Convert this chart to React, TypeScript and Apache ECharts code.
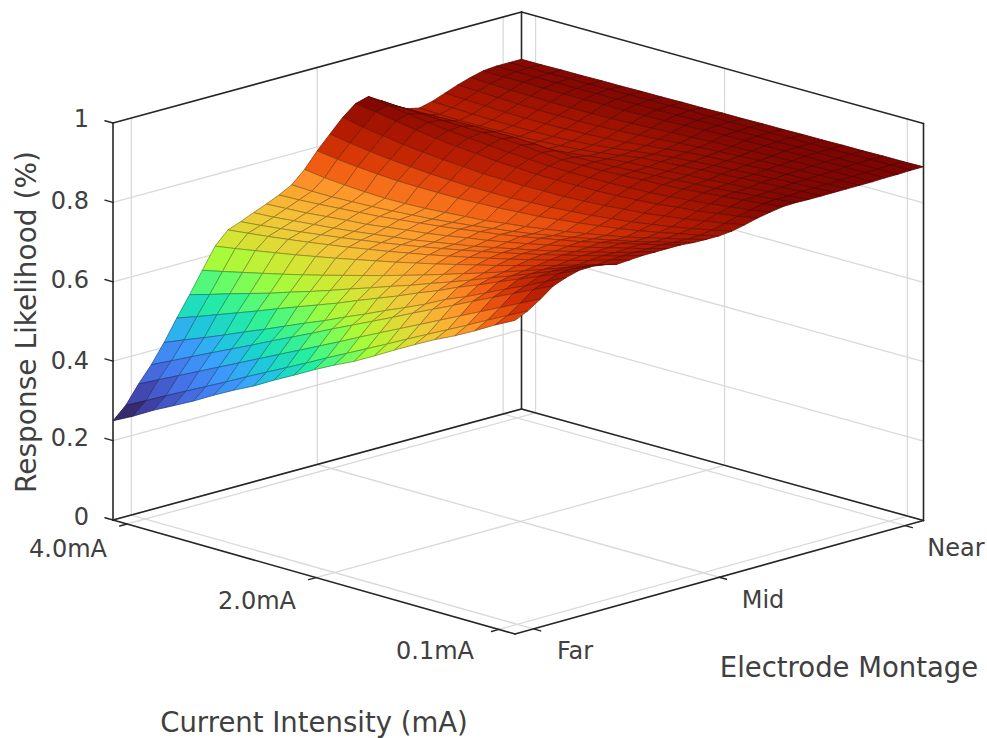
import React, { useEffect, useRef } from "react";
import * as echarts from "echarts";

// Response likelihood; each row is one montage position (Far -> Near),
// each column one current step (4.0mA -> 0.1mA).
const responseRows: number[][] = [
  [.250,.276,.305,.331,.357,.386,.413,.438,.467,.494,.522,.548,.572,.600,.629,.657,.684,.708,.735,.764,.790],
  [.280,.306,.333,.359,.385,.411,.438,.464,.490,.516,.543,.569,.595,.621,.648,.674,.700,.726,.753,.779,.805],
  [.325,.350,.375,.400,.425,.450,.475,.500,.525,.550,.575,.601,.626,.651,.676,.701,.726,.751,.776,.801,.826],
  [.365,.389,.414,.438,.462,.486,.511,.535,.559,.584,.608,.632,.656,.681,.705,.729,.754,.778,.802,.826,.850],
  [.412,.433,.453,.474,.496,.517,.539,.561,.582,.605,.627,.650,.672,.695,.721,.742,.766,.790,.813,.838,.862],
  [.465,.483,.502,.521,.540,.560,.579,.598,.617,.638,.658,.678,.700,.720,.743,.763,.785,.806,.827,.849,.871],
  [.515,.530,.546,.561,.576,.593,.609,.626,.644,.661,.679,.696,.715,.733,.752,.772,.791,.811,.831,.851,.872],
  [.568,.579,.591,.603,.615,.628,.641,.655,.669,.683,.698,.713,.729,.745,.761,.778,.795,.813,.831,.849,.868],
  [.620,.628,.637,.646,.655,.665,.675,.686,.697,.708,.720,.732,.745,.758,.771,.785,.799,.814,.829,.844,.860],
  [.652,.658,.664,.671,.678,.686,.694,.703,.712,.722,.732,.743,.754,.766,.778,.791,.804,.818,.832,.847,.862],
  [.664,.669,.675,.681,.688,.695,.703,.711,.720,.729,.739,.749,.760,.771,.783,.795,.808,.821,.835,.849,.864],
  [.678,.681,.686,.691,.696,.702,.709,.716,.723,.732,.741,.750,.761,.772,.783,.795,.808,.821,.834,.849,.864],
  [.691,.694,.697,.702,.707,.711,.718,.725,.731,.739,.748,.756,.766,.776,.787,.798,.810,.823,.836,.849,.864],
  [.705,.707,.710,.714,.718,.722,.728,.734,.740,.747,.755,.762,.771,.781,.791,.801,.813,.825,.837,.850,.864],
  [.722,.720,.720,.722,.724,.727,.731,.735,.741,.747,.754,.761,.769,.779,.789,.799,.810,.821,.834,.847,.861],
  [.752,.745,.741,.738,.736,.737,.739,.743,.747,.751,.758,.764,.772,.780,.789,.799,.809,.821,.834,.846,.860],
  [.790,.783,.778,.774,.771,.770,.770,.770,.772,.774,.778,.781,.787,.793,.800,.807,.816,.826,.837,.847,.860],
  [.824,.815,.808,.802,.798,.794,.792,.790,.790,.790,.793,.795,.799,.803,.809,.815,.823,.831,.841,.851,.863],
  [.857,.846,.839,.831,.826,.821,.818,.814,.813,.812,.813,.813,.816,.819,.824,.828,.835,.842,.851,.859,.870],
  [.883,.876,.867,.859,.852,.846,.842,.837,.835,.832,.832,.832,.833,.835,.838,.842,.848,.853,.861,.868,.878],
  [.892,.884,.876,.869,.863,.858,.854,.850,.847,.844,.843,.843,.844,.846,.848,.852,.857,.862,.869,.875,.884],
  [.873,.870,.868,.866,.865,.863,.862,.860,.855,.851,.851,.852,.854,.857,.859,.862,.867,.872,.877,.882,.889],
  [.852,.853,.854,.855,.856,.856,.856,.854,.851,.849,.851,.853,.856,.859,.862,.866,.869,.874,.879,.884,.890],
  [.835,.832,.830,.829,.829,.829,.830,.833,.837,.843,.850,.855,.858,.861,.865,.868,.872,.876,.880,.884,.889],
  [.828,.826,.825,.825,.826,.827,.829,.832,.836,.842,.850,.858,.862,.866,.870,.873,.877,.880,.883,.886,.889],
  [.836,.834,.832,.831,.831,.831,.832,.835,.839,.845,.852,.858,.864,.868,.872,.875,.878,.881,.884,.886,.889],
  [.848,.846,.844,.842,.841,.841,.842,.844,.847,.851,.857,.862,.868,.872,.875,.878,.881,.883,.885,.887,.889],
  [.860,.858,.856,.854,.853,.853,.853,.855,.857,.860,.864,.868,.872,.875,.878,.881,.883,.885,.886,.888,.889],
  [.870,.868,.866,.865,.864,.864,.864,.865,.867,.869,.872,.874,.877,.879,.881,.883,.885,.886,.887,.888,.889],
  [.878,.877,.877,.876,.876,.876,.877,.877,.878,.879,.881,.883,.884,.885,.886,.887,.888,.888,.889,.889,.890],
  [.881,.881,.881,.881,.881,.882,.882,.883,.883,.884,.885,.886,.886,.887,.887,.888,.888,.888,.889,.889,.890],
  [.881,.882,.882,.883,.883,.884,.884,.885,.885,.886,.886,.886,.887,.887,.888,.888,.889,.889,.890,.890,.891],
  [.881,.881,.882,.882,.883,.883,.884,.884,.885,.885,.886,.886,.887,.887,.888,.888,.889,.889,.890,.890,.891],
];

const zTicks = [0, 0.2, 0.4, 0.6, 0.8, 1];
const currentTickLabels = ["4.0mA", "2.0mA", "0.1mA"];
const currentTickAt = [0.035, 0.505, 0.96];
const montageTickLabels = ["Far", "Mid", "Near"];
const montageTickAt = [0.045, 0.5, 0.955];
const turbo = ["#30123b", "#4145ab", "#4675ed", "#39a2fc", "#1bcfd4", "#24eca6", "#61fc6c", "#a4fc3b", "#d1e834", "#f3c63a", "#fe9b2d", "#f36315", "#d93806", "#b11901", "#7a0402"];
// Colour curve: normalised height -> position in the palette.
const curveIn = [0, 0.29, 0.43, 0.6, 0.75, 0.88, 0.95, 1];
const curveOut = [0, 0.22, 0.37, 0.57, 0.72, 0.9, 0.95, 1];

const WIDTH = 987;
const HEIGHT = 738;
const ORIGIN = [113, 520];
const S_VEC = [402, 114];
const T_VEC = [408.5, -111];
const Z_SCALE = 397;
const BOX = "#262626";
const GRID = "#d9d9d9";
const TEXT = "#404040";
const FONT = "'DejaVu Sans'";

const project = (s: number, t: number, z: number): [number, number] => [
  ORIGIN[0] + s * S_VEC[0] + t * T_VEC[0],
  ORIGIN[1] + s * S_VEC[1] + t * T_VEC[1] - 2.5 * s * t - z * Z_SCALE,
];

const rgb = (h: string) => [1, 3, 5].map((k) => parseInt(h.slice(k, k + 2), 16));
const warp = (u: number) => {
  for (let k = 0; k < curveIn.length - 1; k++) {
    if (u <= curveIn[k + 1]) {
      return curveOut[k] + ((curveOut[k + 1] - curveOut[k]) * (u - curveIn[k])) / (curveIn[k + 1] - curveIn[k]);
    }
  }
  return curveOut[curveOut.length - 1];
};
const turboAt = (u: number, dim = 1) => {
  const p = warp(Math.max(0, Math.min(1, u))) * (turbo.length - 1);
  const k = Math.min(turbo.length - 2, Math.floor(p));
  const a = rgb(turbo[k]);
  const b = rgb(turbo[k + 1]);
  const c = a.map((v, n) => Math.round((v + (b[n] - v) * (p - k)) * dim));
  return `rgb(${c[0]},${c[1]},${c[2]})`;
};

const allZ = responseRows.flat();
const Z_MIN = Math.min(...allZ);
const Z_MAX = Math.max(...allZ);
const rows = responseRows.length;
const cols = responseRows[0].length;

// Painter's order: back corner first, front corner last.
const cells: number[][] = [];
for (let i = rows - 2; i >= 0; i--) for (let j = 0; j < cols - 1; j++) cells.push([i, j]);

type Seg = { a: [number, number, number]; b: [number, number, number]; color: string; width: number };
const segments: Seg[] = [];
const seg = (a: [number, number, number], b: [number, number, number], color: string, width: number) =>
  segments.push({ a, b, color, width });

zTicks.forEach((z) => {
  if (z === 1) return;
  seg([0, 0, z], [0, 1, z], GRID, 1.3);
  seg([0, 1, z], [1, 1, z], GRID, 1.3);
});
montageTickAt.forEach((t) => {
  seg([0, t, 0], [0, t, 1], GRID, 1.3);
  seg([0, t, 0], [1, t, 0], GRID, 1.3);
});
currentTickAt.forEach((s) => {
  seg([s, 1, 0], [s, 1, 1], GRID, 1.3);
  seg([s, 0, 0], [s, 1, 0], GRID, 1.3);
});
// Box outline
seg([0, 0, 0], [1, 0, 0], BOX, 1.6);
seg([1, 0, 0], [1, 1, 0], BOX, 1.6);
seg([0, 0, 0], [0, 1, 0], BOX, 1.6);
seg([0, 1, 0], [1, 1, 0], BOX, 1.6);
seg([0, 0, 0], [0, 0, 1], BOX, 1.6);
seg([0, 1, 0], [0, 1, 1], BOX, 1.6);
seg([1, 1, 0], [1, 1, 1], BOX, 1.6);
seg([0, 0, 1], [0, 1, 1], BOX, 1.6);
seg([0, 1, 1], [1, 1, 1], BOX, 1.6);
// Ticks
zTicks.forEach((z) => seg([0, 0, z], [-0.02, 0, z], BOX, 1.4));
currentTickAt.forEach((s) => seg([s, 0, 0], [s, -0.018, 0], BOX, 1.4));
montageTickAt.forEach((t) => seg([1, t, 0], [1.018, t, 0], BOX, 1.4));

const zLabelY = [517, 438, 361, 280, 201, 119];
const currentLabelPos = [[68, 549], [257, 601], [435, 651]];
const montageLabelPos = [[575, 651], [763, 600], [956, 548]];

const text = (t: string, x: number, y: number, size: number, align = "center", rotation = 0) => ({
  type: "text",
  x,
  y,
  rotation,
  silent: true,
  style: { text: t, fontFamily: FONT, fontSize: size, fill: TEXT, align, verticalAlign: "middle" },
});

export default function App() {
  const ref = useRef<HTMLDivElement>(null);
  useEffect(() => {
    document.body.style.margin = "0";
    const chart = echarts.init(ref.current!, undefined, { renderer: "svg" });
    chart.setOption({
      animation: false,
      backgroundColor: "#ffffff",
      grid: { left: 0, right: 0, top: 0, bottom: 0 },
      xAxis: { type: "value", min: 0, max: WIDTH, show: false },
      yAxis: { type: "value", min: 0, max: HEIGHT, inverse: true, show: false },
      tooltip: { show: false },
      series: [
        {
          type: "custom",
          silent: true,
          clip: false,
          data: segments.map((_, k) => [k]),
          renderItem: (_: any, api: any) => {
            const g = segments[api.value(0)];
            const p = api.coord(project(...g.a));
            const q = api.coord(project(...g.b));
            return {
              type: "line",
              shape: { x1: p[0], y1: p[1], x2: q[0], y2: q[1] },
              style: { stroke: g.color, lineWidth: g.width, lineCap: "round" },
            };
          },
        },
        {
          type: "custom",
          silent: true,
          clip: false,
          data: cells,
          renderItem: (_: any, api: any) => {
            const i = api.value(0);
            const j = api.value(1);
            const corners = [[i, j], [i + 1, j], [i + 1, j + 1], [i, j + 1]];
            const pts = corners.map(([a, b]) =>
              api.coord(project(b / (cols - 1), a / (rows - 1), responseRows[a][b]))
            );
            const mean = corners.reduce((m, [a, b]) => m + responseRows[a][b], 0) / 4;
            const u = (mean - Z_MIN) / (Z_MAX - Z_MIN);
            return {
              type: "polygon",
              shape: { points: pts },
              style: { fill: turboAt(u), stroke: turboAt(u, 0.62), lineWidth: 0.8, lineJoin: "round" },
            };
          },
        },
      ],
      graphic: [
        ...zTicks.map((z, k) => text(String(z), 89, zLabelY[k], 24, "right")),
        ...currentTickLabels.map((l, k) => text(l, currentLabelPos[k][0], currentLabelPos[k][1], 24)),
        ...montageTickLabels.map((l, k) => text(l, montageLabelPos[k][0], montageLabelPos[k][1], 24)),
        text("Electrode Montage", 849, 667, 27.5),
        text("Current Intensity (mA)", 314, 722, 27.5),
        text("Response Likelihood (%)", 26, 322, 28, "center", Math.PI / 2),
      ],
    });
    return () => chart.dispose();
  }, []);
  return <div ref={ref} style={{ position: "absolute", left: 0, top: 0, width: WIDTH, height: HEIGHT }} />;
}
